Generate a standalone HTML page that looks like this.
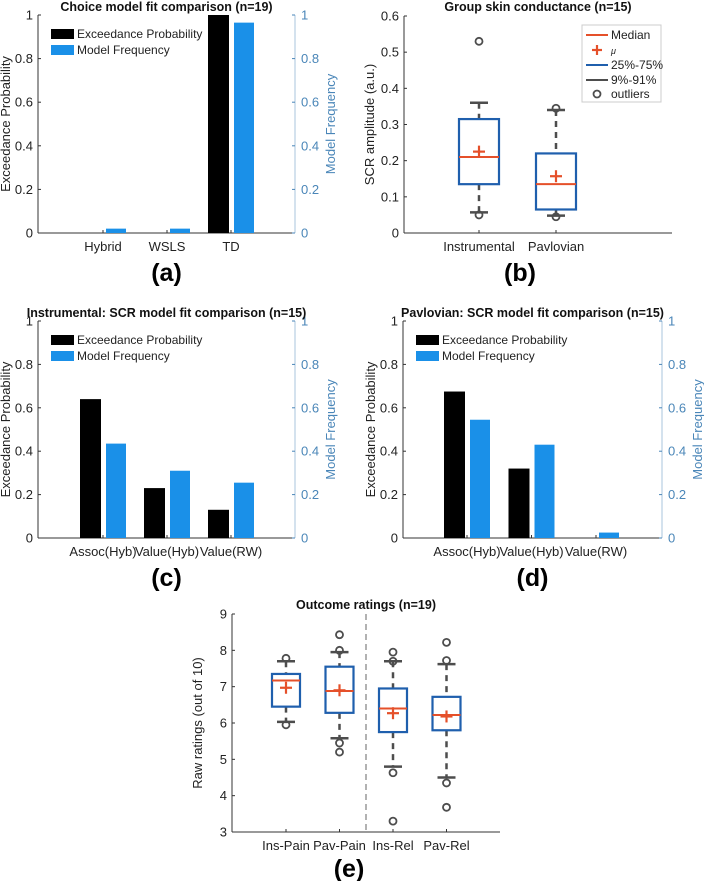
<!DOCTYPE html>
<html><head><meta charset="utf-8"><style>
body{margin:0;background:#fff;}
svg{display:block;font-family:"Liberation Sans",sans-serif;}
</style></head><body>
<svg id="fig" width="704" height="881" viewBox="0 0 704 881" xmlns="http://www.w3.org/2000/svg"></svg>
<script>
// ---- data ----
const catsA = ["Hybrid","WSLS","TD"];
const expA = [0,0,1];
const freqA = [0.02,0.02,0.965];
const catsC = ["Assoc(Hyb)","Value(Hyb)","Value(RW)"];
const expC = [0.64,0.23,0.13];
const freqC = [0.435,0.31,0.255];
const catsD = ["Assoc(Hyb)","Value(Hyb)","Value(RW)"];
const expD = [0.675,0.32,0];
const freqD = [0.545,0.43,0.025];
const barTicks = [0,0.2,0.4,0.6,0.8,1];
const barTickLabels = ["0","0.2","0.4","0.6","0.8","1"];

const catsB = ["Instrumental","Pavlovian"];
const q1B = [0.135,0.065], q3B = [0.315,0.22], medB = [0.21,0.135], meanB = [0.225,0.157];
const wLoB = [0.057,0.048], wHiB = [0.36,0.34];
const outB = [[0.53,0.05],[0.345,0.045]];
const ticksB = [0,0.1,0.2,0.3,0.4,0.5,0.6];
const tickLabelsB = ["0","0.1","0.2","0.3","0.4","0.5","0.6"];

const catsE = ["Ins-Pain","Pav-Pain","Ins-Rel","Pav-Rel"];
const q1E = [6.45,6.28,5.75,5.8], q3E = [7.35,7.55,6.95,6.72];
const medE = [7.17,6.88,6.4,6.22], meanE = [6.97,6.9,6.27,6.18];
const wLoE = [6.03,5.58,4.8,4.5], wHiE = [7.7,7.95,7.7,7.62];
const outE = [[7.78,5.95],[8.43,8.0,5.45,5.2],[7.95,7.7,4.63,3.3],[8.22,7.72,4.35,3.68]];
const ticksE = [3,4,5,6,7,8,9];
const tickLabelsE = ["3","4","5","6","7","8","9"];

const NS="http://www.w3.org/2000/svg";
const svg=document.getElementById('fig');
function el(tag,attrs,parent,text){const e=document.createElementNS(NS,tag);for(const k in attrs)e.setAttribute(k,attrs[k]);if(text!==undefined)e.textContent=text;(parent||svg).appendChild(e);return e;}
const BLUE="#1a90e8", RAX="#4a86b8", BOXB="#1f5fad", RED="#e5502a", GR="#4d4d4d";
const TFS=13;

function barPanel(name,x0,x1,yTop,yBot,c0,step,cats,exp,freq,title,tag,legX){
  const g=el('g',{});
  
  
  const ys=v=>yBot-(yBot-yTop)*v;
  const la=el('line',{x1:x0,y1:yTop,x2:x0,y2:yBot,stroke:'#333','stroke-width':1},g);
  
  el('line',{x1:x0,y1:yBot,x2:x1,y2:yBot,stroke:'#333','stroke-width':1},g);
  const ra=el('line',{x1:x1,y1:yTop,x2:x1,y2:yBot,stroke:'#a9c4dc','stroke-width':1},g);
  
  barTicks.forEach((t,i)=>{
    const y=ys(t);
    el('line',{x1:x0,y1:y,x2:x0+3,y2:y,stroke:'#333'},g);
    el('line',{x1:x1,y1:y,x2:x1-3,y2:y,stroke:RAX},g);
    const tl=el('text',{x:x0-5,y:y+4.5,'text-anchor':'end','font-size':TFS,fill:'#222'},g,barTickLabels[i]);
    
    const tr=el('text',{x:x1+6,y:y+4.5,'font-size':TFS,fill:RAX},g,barTickLabels[i]);
    
  });
  cats.forEach((c,i)=>{
    const cx=c0+step*i;
    const b1=el('rect',{x:cx-23,y:ys(exp[i]),width:21,height:yBot-ys(exp[i]),fill:'#000'},g);
    
    const b2=el('rect',{x:cx+3,y:ys(freq[i]),width:20,height:yBot-ys(freq[i]),fill:BLUE},g);
    
    el('line',{x1:cx,y1:yBot,x2:cx,y2:yBot-3,stroke:'#333'},g);
    const xl=el('text',{x:cx,y:yBot+18,'text-anchor':'middle','font-size':TFS,fill:'#222'},g,c);
    
  });
  const yl=el('text',{x:0,y:0,transform:`translate(${x0-28},${(yTop+yBot)/2}) rotate(-90)`,'text-anchor':'middle','font-size':13,fill:'#222'},g,'Exceedance Probability');
  
  const yr=el('text',{x:0,y:0,transform:`translate(${x1+40},${(yTop+yBot)/2}) rotate(-90)`,'text-anchor':'middle','font-size':13,fill:RAX},g,'Model Frequency');
  
  const tt=el('text',{x:(x0+x1)/2,y:yTop-4,'text-anchor':'middle','font-size':12.5,'font-weight':'bold',fill:'#111'},g,title);
  
  const lg=el('g',{},g);
  
  el('rect',{x:legX,y:yTop+14,width:23,height:10,fill:'#000'},lg);
  el('text',{x:legX+26,y:yTop+23,'font-size':12,fill:'#222'},lg,'Exceedance Probability');
  el('rect',{x:legX,y:yTop+30,width:23,height:10,fill:BLUE},lg);
  el('text',{x:legX+26,y:yTop+39,'font-size':12,fill:'#222'},lg,'Model Frequency');
  const pl=el('text',{x:(x0+x1)/2,y:yBot+48,'text-anchor':'middle','font-size':25,'font-weight':'bold',fill:'#000'},g,tag);
  
}

function boxPanel(name,x0,x1,yTop,yBot,vmin,vmax,c0,step,bw,cats,q1,q3,med,mean,wlo,whi,outs,ticks,tlabels,title,ylabel,tag,tagX,tagDy){
  const g=el('g',{});
  
  
  const ys=v=>yBot-(yBot-yTop)*(v-vmin)/(vmax-vmin);
  el('line',{x1:x0,y1:yTop,x2:x0,y2:yBot,stroke:'#333'},g);
  el('line',{x1:x0,y1:yBot,x2:x1,y2:yBot,stroke:'#333'},g);
  ticks.forEach((t,i)=>{
    const y=ys(t);
    el('line',{x1:x0,y1:y,x2:x0+3,y2:y,stroke:'#333'},g);
    const tl=el('text',{x:x0-5,y:y+4.5,'text-anchor':'end','font-size':TFS,fill:'#222'},g,tlabels[i]);
    
  });
  cats.forEach((c,i)=>{
    const cx=c0+step*i;
    const bg=el('g',{},g);
    
    
    el('line',{x1:cx,y1:ys(whi[i]),x2:cx,y2:ys(q3[i]),stroke:GR,'stroke-width':2.5,'stroke-dasharray':'6,5'},bg);
    el('line',{x1:cx,y1:ys(q1[i]),x2:cx,y2:ys(wlo[i]),stroke:GR,'stroke-width':2.5,'stroke-dasharray':'6,5'},bg);
    el('line',{x1:cx-9,y1:ys(whi[i]),x2:cx+9,y2:ys(whi[i]),stroke:GR,'stroke-width':2.5},bg);
    el('line',{x1:cx-9,y1:ys(wlo[i]),x2:cx+9,y2:ys(wlo[i]),stroke:GR,'stroke-width':2.5},bg);
    el('rect',{x:cx-bw/2,y:ys(q3[i]),width:bw,height:ys(q1[i])-ys(q3[i]),fill:'none',stroke:BOXB,'stroke-width':2.2},bg);
    el('line',{x1:cx-bw/2,y1:ys(med[i]),x2:cx+bw/2,y2:ys(med[i]),stroke:RED,'stroke-width':2},bg);
    const my=ys(mean[i]);
    el('line',{x1:cx-6,y1:my,x2:cx+6,y2:my,stroke:RED,'stroke-width':2.2},bg);
    el('line',{x1:cx,y1:my-6,x2:cx,y2:my+6,stroke:RED,'stroke-width':2.2},bg);
    outs[i].forEach(o=>{
      const oc=el('circle',{cx:cx,cy:ys(o),r:3.5,fill:'none',stroke:GR,'stroke-width':1.8},bg);
      
    });
    el('line',{x1:cx,y1:yBot,x2:cx,y2:yBot-3,stroke:'#333'},g);
    const xl=el('text',{x:cx,y:yBot+18,'text-anchor':'middle','font-size':TFS,fill:'#222'},g,c);
    
  });
  const yl=el('text',{x:0,y:0,transform:`translate(${x0-30},${(yTop+yBot)/2}) rotate(-90)`,'text-anchor':'middle','font-size':13,fill:'#222'},g,ylabel);
  
  const tt=el('text',{x:(x0+x1)/2,y:yTop-5,'text-anchor':'middle','font-size':12.5,'font-weight':'bold',fill:'#111'},g,title);
  
  const pl=el('text',{x:tagX,y:yBot+tagDy,'text-anchor':'middle','font-size':25,'font-weight':'bold',fill:'#000'},g,tag);
  
  return {g,ys};
}

barPanel('panel-a-choice-model-fit',38,295,15,233,103,64,catsA,expA,freqA,'Choice model fit comparison (n=19)','(a)',51);
barPanel('panel-c-instrumental-scr-fit',38,295,321,538,103,64,catsC,expC,freqC,'Instrumental: SCR model fit comparison (n=15)','(c)',51);
barPanel('panel-d-pavlovian-scr-fit',403,662,321,538,467,64.5,catsD,expD,freqD,'Pavlovian: SCR model fit comparison (n=15)','(d)',416);

const pb=boxPanel('panel-b-group-skin-conductance',404,672,16,233,0,0.6,479,77,40,catsB,q1B,q3B,medB,meanB,wLoB,wHiB,outB,ticksB,tickLabelsB,'Group skin conductance (n=15)','SCR amplitude (a.u.)','(b)',520,48);
const lb=el('g',{});


el('rect',{x:582,y:25,width:79,height:77,fill:'#fff',stroke:'#ccc'},lb);
el('line',{x1:586,y1:35,x2:608,y2:35,stroke:RED,'stroke-width':2},lb);
el('text',{x:611,y:39,'font-size':12,fill:'#222'},lb,'Median');
el('line',{x1:592,y1:50,x2:602,y2:50,stroke:RED,'stroke-width':2.2},lb);
el('line',{x1:597,y1:45,x2:597,y2:55,stroke:RED,'stroke-width':2.2},lb);
el('text',{x:611,y:54,'font-size':9,'font-style':'italic',fill:'#222'},lb,'μ');
el('line',{x1:586,y1:65,x2:608,y2:65,stroke:BOXB,'stroke-width':2},lb);
el('text',{x:611,y:69,'font-size':12,fill:'#222'},lb,'25%-75%');
el('line',{x1:586,y1:80,x2:608,y2:80,stroke:GR,'stroke-width':2},lb);
el('text',{x:611,y:84,'font-size':12,fill:'#222'},lb,'9%-91%');
el('circle',{cx:597,cy:94,r:3.5,fill:'none',stroke:GR,'stroke-width':1.8},lb);
el('text',{x:611,y:98,'font-size':12,fill:'#222'},lb,'outliers');

const pe=boxPanel('panel-e-outcome-ratings',232,500,614,832,3,9,286,53.5,28,catsE,q1E,q3E,medE,meanE,wLoE,wHiE,outE,ticksE,tickLabelsE,'Outcome ratings (n=19)','Raw ratings (out of 10)','(e)',349,45);
const sep=el('line',{x1:366,y1:614,x2:366,y2:832,stroke:'#666','stroke-width':1,'stroke-dasharray':'6,4'},pe.g);


</script>
</body></html>
